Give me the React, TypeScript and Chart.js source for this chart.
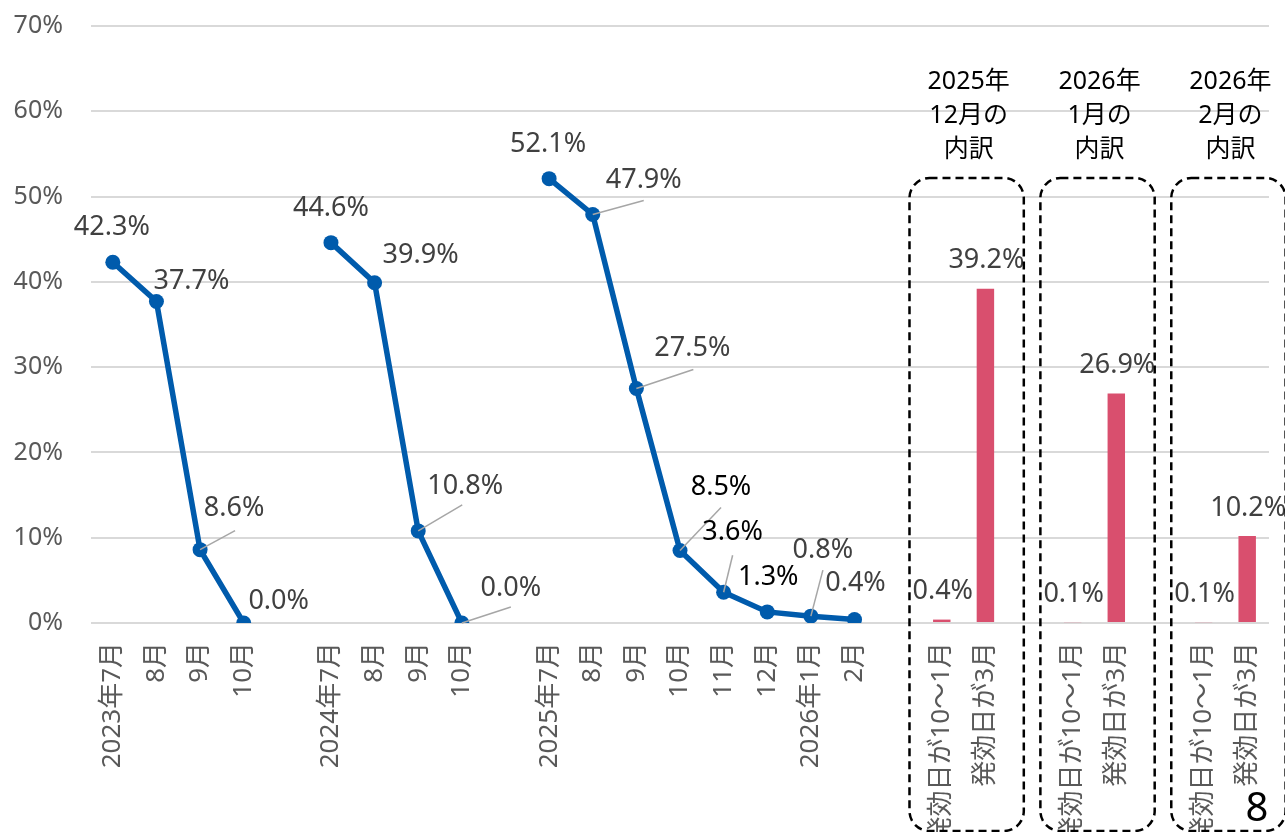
import React, { useEffect, useRef } from 'react';
import { Chart, registerables } from 'chart.js';

Chart.register(...registerables);

const categories: string[] = [
  '2023年7月', '8月', '9月', '10月', '',
  '2024年7月', '8月', '9月', '10月', '',
  '2025年7月', '8月', '9月', '10月', '11月', '12月', '2026年1月', '2月', '',
  '発効日が10～1月', '発効日が3月', '',
  '発効日が10～1月', '発効日が3月', '',
  '発効日が10～1月', '発効日が3月',
];

const lineValues: (number | null)[] = [
  42.3, 37.7, 8.6, 0.0, null,
  44.6, 39.9, 10.8, 0.0, null,
  52.1, 47.9, 27.5, 8.5, 3.6, 1.3, 0.8, 0.4, null,
  null, null, null,
  null, null, null,
  null, null,
];

const barValues: (number | null)[] = [
  null, null, null, null, null,
  null, null, null, null, null,
  null, null, null, null, null, null, null, null, null,
  0.4, 39.2, null,
  0.1, 26.9, null,
  0.1, 10.2,
];

const yTickValues: number[] = [0, 10, 20, 30, 40, 50, 60, 70];

const groupHeaders: string[][] = [
  ['2025年', '12月の', '内訳'],
  ['2026年', '1月の', '内訳'],
  ['2026年', '2月の', '内訳'],
];
const groupFirstIndex: number[] = [19, 22, 25];
const pageNumber = '8';

// label placement (pixel offsets from the point), leader end offsets, text colour
type Place = { dx: number; dy: number; leader?: [number, number]; dark?: boolean };
const linePlacement: Record<number, Place> = {
  0: { dx: -1, dy: -35 },
  1: { dx: 35, dy: -20 },
  2: { dx: 34, dy: -41, leader: [35, -19] },
  3: { dx: 35, dy: -22 },
  5: { dx: 0, dy: -34 },
  6: { dx: 46, dy: -27 },
  7: { dx: 47, dy: -45, leader: [44, -26] },
  8: { dx: 49, dy: -35, leader: [49, -16] },
  10: { dx: -1, dy: -34 },
  11: { dx: 51, dy: -34, leader: [51, -14] },
  12: { dx: 56, dy: -40, leader: [57, -19] },
  13: { dx: 41, dy: -63, leader: [41, -43], dark: true },
  14: { dx: 9, dy: -60, leader: [9, -37], dark: true },
  15: { dx: 1, dy: -35, dark: true },
  16: { dx: 12, dy: -66, leader: [12, -46] },
  17: { dx: 1, dy: -36 },
};

const FONT = '"Noto Sans", "Noto Sans CJK JP", sans-serif';
const LINE_COLOR = '#005BAC';
const BAR_COLOR = '#D94F6E';
const LABEL_GRAY = '#404040';
const TICK_GRAY = '#595959';

const fmt = (v: number) => v.toFixed(1) + '%';

const labelPlugin = {
  id: 'customLabels',
  afterDatasetsDraw(chart: any) {
    const ctx = chart.ctx as CanvasRenderingContext2D;
    ctx.save();
    const lineMeta = chart.getDatasetMeta(0);
    lineMeta.data.forEach((pt: any, i: number) => {
      const v = lineValues[i];
      if (v === null || v === undefined) return;
      const p = linePlacement[i] || { dx: 30, dy: -30 };
      if (p.leader) {
        ctx.strokeStyle = '#A6A6A6';
        ctx.lineWidth = 1.5;
        ctx.beginPath();
        ctx.moveTo(pt.x, pt.y);
        ctx.lineTo(pt.x + p.leader[0], pt.y + p.leader[1]);
        ctx.stroke();
      }
    });
    ctx.font = `27px ${FONT}`;
    ctx.textAlign = 'center';
    ctx.textBaseline = 'middle';
    lineMeta.data.forEach((pt: any, i: number) => {
      const v = lineValues[i];
      if (v === null || v === undefined) return;
      const p = linePlacement[i] || { dx: 30, dy: -30 };
      ctx.fillStyle = p.dark ? '#000000' : LABEL_GRAY;
      ctx.fillText(fmt(v), pt.x + p.dx, pt.y + p.dy);
    });
    const barMeta = chart.getDatasetMeta(1);
    barMeta.data.forEach((bar: any, i: number) => {
      const v = barValues[i];
      if (v === null || v === undefined) return;
      ctx.fillStyle = LABEL_GRAY;
      ctx.fillText(fmt(v), bar.x + 1, bar.y - 28);
    });
    ctx.restore();
  },
  afterDraw(chart: any) {
    const ctx = chart.ctx as CanvasRenderingContext2D;
    const x = chart.scales.x;
    const cw = x.getPixelForValue(1) - x.getPixelForValue(0);
    ctx.save();
    groupFirstIndex.forEach((idx, g) => {
      const left = x.getPixelForValue(idx) - 0.74 * cw;
      const right = x.getPixelForValue(idx + 1) + 0.88 * cw;
      const top = 178;
      const bottom = 831;
      ctx.strokeStyle = '#000000';
      ctx.lineWidth = 2.5;
      ctx.setLineDash([8, 5]);
      ctx.beginPath();
      (ctx as any).roundRect(left, top, right - left, bottom - top, 20);
      ctx.stroke();
      ctx.setLineDash([]);
      ctx.fillStyle = '#000000';
      ctx.font = `25px ${FONT}`;
      ctx.textAlign = 'center';
      ctx.textBaseline = 'middle';
      const cx = (left + right) / 2 + 2;
      groupHeaders[g].forEach((line, li) => {
        ctx.fillText(line, cx, 82 + li * 34);
      });
    });
    ctx.fillStyle = '#000000';
    ctx.font = `40px ${FONT}`;
    ctx.textAlign = 'center';
    ctx.textBaseline = 'alphabetic';
    ctx.fillText(pageNumber, 1257, 821);
    ctx.restore();
  },
};

export default function App() {
  const canvasRef = useRef<HTMLCanvasElement | null>(null);

  useEffect(() => {
    if (!canvasRef.current) return;
    const chart = new Chart(canvasRef.current, {
      type: 'bar',
      data: {
        labels: categories,
        datasets: [
          {
            type: 'line',
            data: lineValues,
            borderColor: LINE_COLOR,
            backgroundColor: LINE_COLOR,
            borderWidth: 5.5,
            pointRadius: 7.5,
            pointHoverRadius: 7.5,
            pointBorderWidth: 0,
            pointBackgroundColor: LINE_COLOR,
            spanGaps: false,
            tension: 0,
            order: 0,
          } as any,
          {
            type: 'bar',
            data: barValues,
            backgroundColor: BAR_COLOR,
            barPercentage: 0.4,
            categoryPercentage: 1,
            order: 1,
          } as any,
        ],
      },
      options: {
        animation: false,
        responsive: false,
        maintainAspectRatio: false,
        layout: { padding: { top: 26, right: 16, left: 0, bottom: 0 } },
        plugins: {
          legend: { display: false },
          tooltip: { enabled: false },
        },
        scales: {
          x: {
            offset: true,
            grid: { display: false, drawTicks: false },
            border: { display: false },
            ticks: {
              autoSkip: false,
              minRotation: 90,
              maxRotation: 90,
              padding: 19,
              color: TICK_GRAY,
              font: { family: FONT, size: 26 },
            },
            afterFit: (s: any) => {
              s.height = 209;
              s.paddingLeft = 0;
              s.paddingRight = 0;
            },
          },
          y: {
            min: 0,
            max: 70,
            afterBuildTicks: (s: any) => {
              s.ticks = yTickValues.map((v) => ({ value: v }));
            },
            grid: { color: '#D9D9D9', lineWidth: 2, drawTicks: false },
            border: { display: false },
            ticks: {
              padding: 28,
              color: TICK_GRAY,
              font: { family: FONT, size: 25 },
              callback: (v: any) => v + '%',
            },
            afterFit: (s: any) => {
              s.width = 91;
              s.paddingTop = 0;
              s.paddingBottom = 0;
            },
          },
        },
      },
      plugins: [labelPlugin],
    });
    return () => chart.destroy();
  }, []);

  return (
    <div style={{ position: 'fixed', left: 0, top: 0, width: 1285, height: 832, background: '#fff' }}>
      <canvas ref={canvasRef} width={1285} height={832} style={{ display: 'block', width: 1285, height: 832 }} />
    </div>
  );
}
